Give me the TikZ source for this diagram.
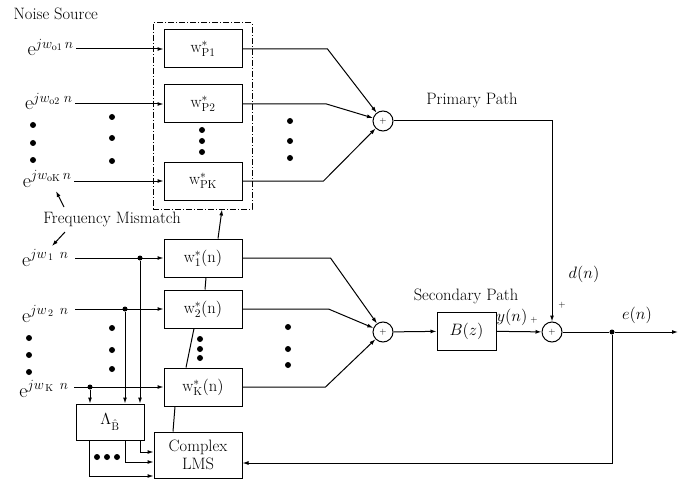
\RequirePackage{fix-cm}
\documentclass[tikz,border=0pt]{standalone}
\usepackage{fontspec}
\usetikzlibrary{arrows.meta,calc}
\begin{document}
\begin{tikzpicture}[x=1pt,y=-1pt, line width=1pt,
  >={Latex[length=6pt,width=4pt]},
  wbox/.style={draw, minimum width=78pt, minimum height=38pt, inner sep=0pt, font=\fontsize{16.5}{19}\selectfont},
  sumnode/.style={draw, circle, minimum size=20pt, inner sep=0pt, font=\fontsize{9}{10}\selectfont},
  dotmark/.style={fill, circle, inner sep=0pt, minimum size=6pt},
  jdot/.style={fill, circle, inner sep=0pt, minimum size=5pt},
  lbl/.style={font=\fontsize{16.5}{19}\selectfont, inner sep=0pt},
  inlbl/.style={font=\fontsize{20}{24}\selectfont, inner sep=0pt, anchor=base east},
  smallplus/.style={font=\fontsize{9}{10}\selectfont, inner sep=0pt}
]
\useasboundingbox (0,0) rectangle (684,481);

% titles
\node[lbl, anchor=west] (ns) at (13,14) {Noise Source};
\node[lbl] (fm) at (112,219) {Frequency Mismatch};
\node[lbl] (pp) at (472,100) {Primary Path};
\node[lbl] (sp) at (466,296) {Secondary Path};

% group box
\node[draw, dash pattern=on 6pt off 2pt on 1pt off 2pt, minimum width=99pt, minimum height=186pt, inner sep=0pt] (grp) at (202.5,116) {};

% primary weight boxes
\node[wbox] (wP1) at (203,49) {$\mathrm{w}^{*}_{\mathrm{P1}}$};
\node[wbox] (wP2) at (203,104) {$\mathrm{w}^{*}_{\mathrm{P2}}$};
\node[wbox] (wPK) at (203,181) {$\mathrm{w}^{*}_{\mathrm{PK}}$};

% adaptive weight boxes
\node[wbox] (w1) at (203,258) {$\mathrm{w}^{*}_{1}(\mathrm{n})$};
\node[wbox] (w2) at (203,309) {$\mathrm{w}^{*}_{2}(\mathrm{n})$};
\node[wbox] (wK) at (203,387) {$\mathrm{w}^{*}_{\mathrm{K}}(\mathrm{n})$};

\node[draw, minimum width=88pt, minimum height=46pt, inner sep=0pt, align=center, font=\fontsize{16.5}{18}\selectfont] (LMS) at (198,455) {Complex\\LMS};
\node[draw, minimum width=68pt, minimum height=36pt, inner sep=0pt, font=\fontsize{16}{18}\selectfont] (lam) at (110,422) {$\Lambda_{\hat{\mathrm{B}}}$};
\node[draw, minimum width=59pt, minimum height=38pt, inner sep=0pt, font=\fontsize{16.5}{19}\selectfont] (B) at (466.5,331) {$B(z)$};

% summing junctions
\node[sumnode] (sum1) at (383,121) {$+$};
\node[sumnode] (sum3) at (383,332) {$+$};
\node[sumnode] (sum2) at (552,332) {$+$};

% inputs
\node[inlbl] (in1) at (74,56) {$\mathrm{e}^{jw_{\mathrm{o1}}\,n}$};
\node[inlbl] (in2) at (73,110) {$\mathrm{e}^{jw_{\mathrm{o2}}\;n}$};
\node[inlbl] (inK) at (72,187) {$\mathrm{e}^{jw_{\mathrm{oK}}\,n}$};
\node[inlbl] (in4) at (69,266) {$\mathrm{e}^{jw_{\,1}\;\,n}$};
\node[inlbl] (in5) at (69,322) {$\mathrm{e}^{jw_{\,2}\;\,n}$};
\node[inlbl] (in6) at (69,397) {$\mathrm{e}^{jw_{\,\mathrm{K}}\;\,n}$};

\draw[->] ([xshift=2pt]in1.east |- wP1) -- (wP1);
\draw[->] ([xshift=2pt]in2.east |- wP2) -- (wP2);
\draw[->] ([xshift=2pt]inK.east |- wPK) -- (wPK);
\draw[->] ([xshift=6pt]in4.east |- w1) -- (w1);
\draw[->] ([xshift=6pt]in5.east |- w2) -- (w2);
\draw[->] ([xshift=5pt]in6.east |- wK) -- (wK);

% junctions on lower inputs
\node[jdot] (j1) at (140,258) {};
\node[jdot] (j2) at (125,309) {};
\node[jdot] (jK) at (90,387) {};
\draw[->] (j1) -- (j1 |- lam.north);
\draw[->] (j2) -- (j2 |- lam.north);
\draw[->] (jK) -- (jK |- lam.north);

% lambda to LMS
\draw[->] (lam.south -| 140,0) -- (140,452) -- (LMS.west |- 0,452);
\draw[->] (lam.south -| 125,0) -- (125,462) -- (LMS.west |- 0,462);
\draw[->] (lam.south -| 89,0) -- (89,476) -- (LMS.west |- 0,476);

% to primary sum
\draw[->] (wP1.east) -- ++(85,0) -- (sum1);
\draw[->] (wP2.east) -- ++(84,0) -- (sum1);
\draw[->] (wPK.east) -- ++(81,0) -- (sum1);

% to secondary sum
\draw[->] (w1.east) -- ++(88,0) -- (sum3);
\draw[->] (w2.east) -- ++(86,0) -- (sum3);
\draw[->] (wK.east) -- ++(83,0) -- (sum3);

\draw[->] (sum3) -- (B);
\draw[->] (B) -- (sum2);
\draw[->] (sum1) -- (sum1 -| sum2) -- (sum2);

\node[jdot] (je) at (612,332) {};
\coordinate (eout) at (678,332);
\draw (sum2) -- (je);
\draw[->] (je) -- (eout);
\draw[->] (je) |- (LMS.east |- 0,463);

% adaptation chain
\draw (LMS.north -| 173,0) -- (wK.south -| 175,0);
\draw (wK.north -| 186,0) -- (w2.south -| 194,0);
\draw (w2.north -| 205,0) -- (w1.south -| 206,0);
\draw[->] (w1.north -| 218,0) -- (grp.south -| 222,0);

% frequency mismatch arrows
\coordinate (fa1) at (64,207);
\coordinate (fa2) at (56,191);
\coordinate (fb1) at (65,232);
\coordinate (fb2) at (52,246);
\draw[->] (fa1) -- (fa2);
\draw[->] (fb1) -- (fb2);

% signal labels
\node[lbl] (dn) at (584,274) {$d(n)$};
\node[lbl] (yn) at (512,317) {$y(n)$};
\node[lbl] (en) at (637,315) {$e(n)$};
\node[smallplus] (p1) at (562,305) {$+$};
\node[smallplus] (p2) at (534,320) {$+$};

% dots
\foreach \x/\y in {33/125,33/143,33/160, 112/117,112/138,112/161, 202/130,202/141,202/152, 290/121,290/141,290/158,
  29/338,29/355,29/372, 112/328,112/350,112/369, 200/339,200/349,200/358, 288/327,288/349,288/365,
  97/457,107/457,117/457}
  \node[dotmark] at (\x,\y) {};
\end{tikzpicture}
\end{document}
